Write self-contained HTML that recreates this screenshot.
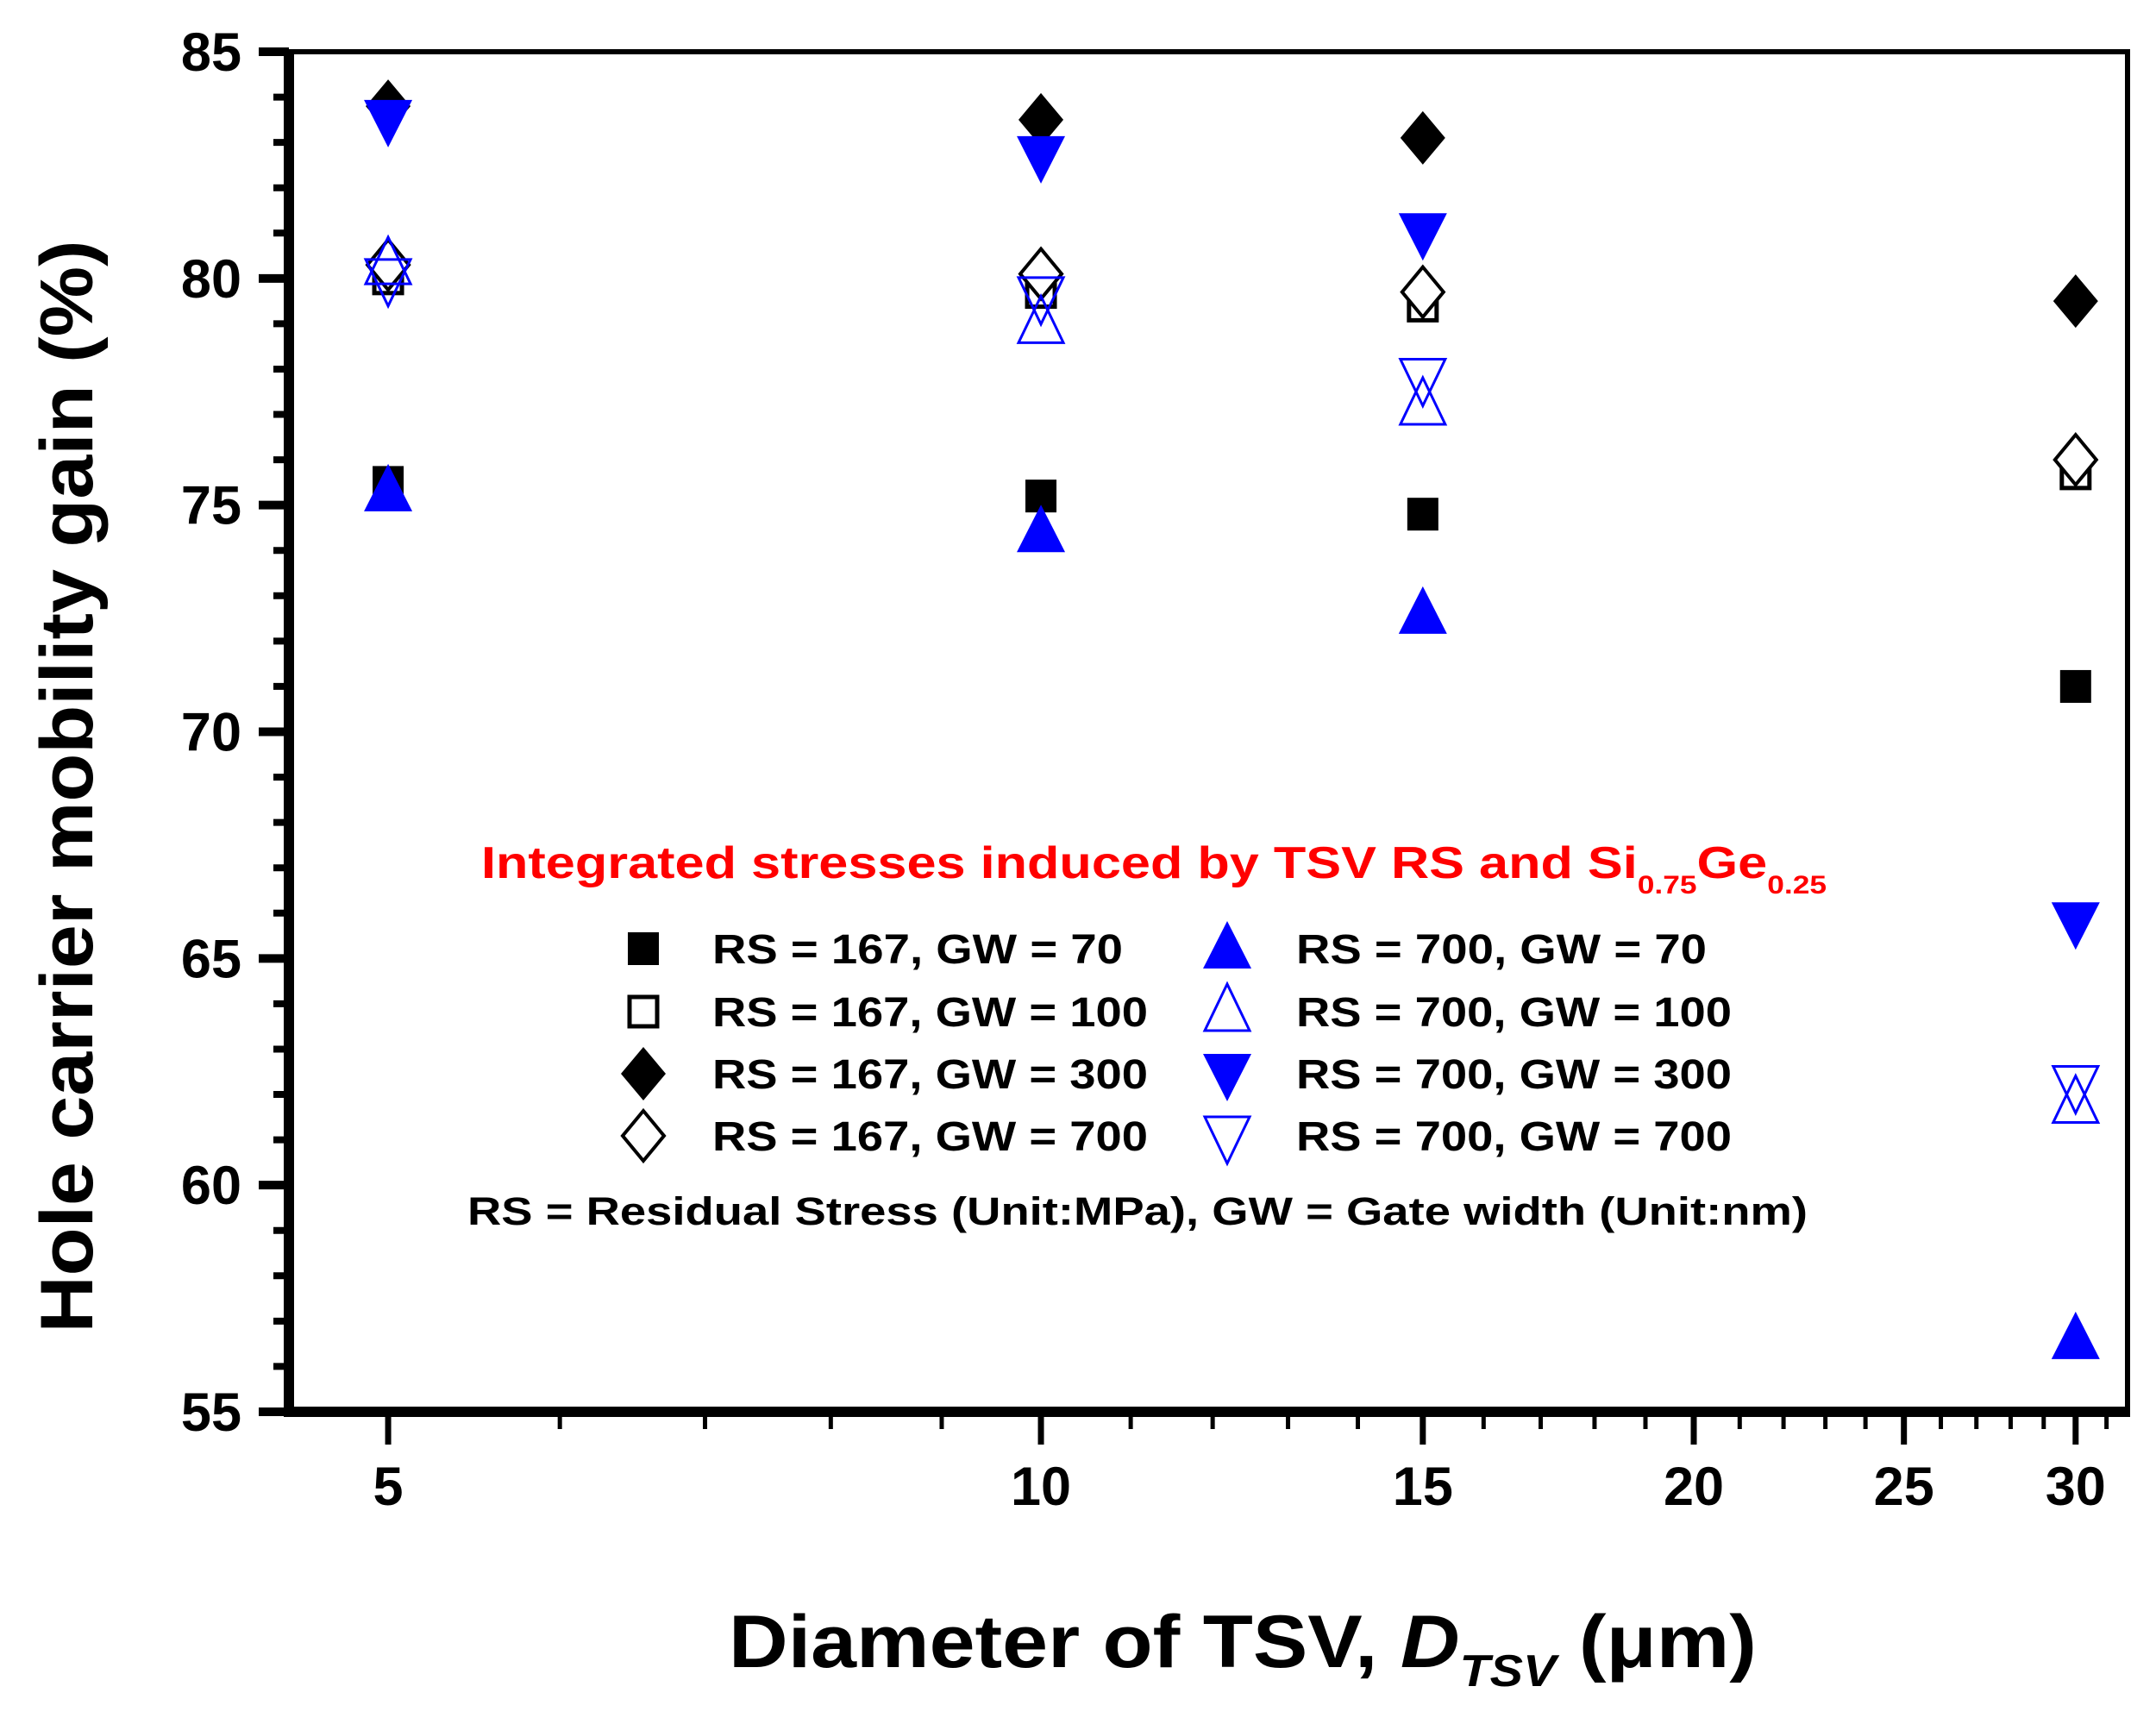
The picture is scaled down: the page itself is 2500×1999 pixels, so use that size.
<!DOCTYPE html>
<html><head><meta charset="utf-8"><style>
html,body{margin:0;padding:0;background:#fff;}
svg{display:block;font-family:"Liberation Sans",Arial,sans-serif;font-weight:bold;}
</style></head><body>
<svg id="chart" width="2500" height="1999" viewBox="0 0 2500 1999" xmlns="http://www.w3.org/2000/svg">
<g id="axes"></g>
<g id="marks"></g>
<g id="legend">
<text x="558" y="1018" font-size="52" fill="#ff0000" textLength="1560" lengthAdjust="spacingAndGlyphs">Integrated stresses induced by TSV RS and Si<tspan font-size="30" dy="18">0.75</tspan><tspan dy="-18">Ge</tspan><tspan font-size="30" dy="18">0.25</tspan></text>
<text x="542" y="1420" font-size="45" fill="#000" textLength="1554" lengthAdjust="spacingAndGlyphs">RS = Residual Stress (Unit:MPa), GW = Gate width (Unit:nm)</text>
</g>
<text transform="translate(107,912) rotate(-90)" text-anchor="middle" font-size="86" fill="#000" textLength="1267" lengthAdjust="spacingAndGlyphs">Hole carrier mobility gain (%)</text>
<text x="845" y="1933" font-size="86" fill="#000" textLength="1192" lengthAdjust="spacingAndGlyphs">Diameter of TSV, <tspan font-style="italic">D</tspan><tspan font-style="italic" font-size="52" dy="22">TSV</tspan><tspan dy="-22"> (μm)</tspan></text>
</svg>
<script>
const xValues = [5, 10, 15, 30];
const seriesNames = ['RS = 167, GW = 70','RS = 167, GW = 100','RS = 167, GW = 300','RS = 167, GW = 700','RS = 700, GW = 70','RS = 700, GW = 100','RS = 700, GW = 300','RS = 700, GW = 700'];
const sq167gw70 = [75.5, 75.2, 74.8, 71.0];
const sq167gw100 = [80.0, 79.7, 79.4, 75.7];
const dm167gw300 = [83.8, 83.5, 83.1, 79.5];
const dm167gw700 = [80.3, 80.1, 79.7, 76.0];
const up700gw70 = [75.3, 74.4, 72.6, 56.6];
const up700gw100 = [80.3, 79.0, 77.2, 61.8];
const dn700gw300 = [83.5, 82.7, 81.0, 65.8];
const dn700gw700 = [80.0, 79.6, 77.8, 62.2];
const yTicks = [55, 60, 65, 70, 75, 80, 85];
const xTicks = [5, 10, 15, 20, 25, 30];

const NS = 'http://www.w3.org/2000/svg';
const L = 335, R = 2467, T = 60, B = 1637;
const xMin = 4.5, xMax = 31.7, yMin = 55, yMax = 85;
function xs(v){ return L + (Math.log10(v) - Math.log10(xMin)) / (Math.log10(xMax) - Math.log10(xMin)) * (R - L); }
function ys(v){ return B - (v - yMin) / (yMax - yMin) * (B - T); }
function mk(tag, attrs, parent){ const e = document.createElementNS(NS, tag); for (const k in attrs) e.setAttribute(k, attrs[k]); parent.appendChild(e); return e; }

const axes = document.getElementById('axes');
const frame = mk('rect', {x:L, y:T, width:R-L, height:B-T, fill:'none', stroke:'#000', 'stroke-width':6}, axes);


const yAx = mk('line', {x1:L, y1:T, x2:L, y2:B+6, stroke:'#000', 'stroke-width':12}, axes);


const xAx = mk('line', {x1:L-6, y1:B, x2:R+3, y2:B, stroke:'#000', 'stroke-width':12}, axes);



for (let v = yMin; v <= yMax; v++) {
  const major = yTicks.includes(v);
  const t = mk('line', {x1:major ? L-35 : L-18, y1:ys(v), x2:L, y2:ys(v), stroke:'#000', 'stroke-width':major ? 10 : 8}, axes);
  
  
}
yTicks.forEach(v => {
  const t = mk('text', {x:280, y:ys(v)+22, 'text-anchor':'end', 'font-size':63, fill:'#000'}, axes);
  t.textContent = v;
  
  
});
for (let v = 5; v <= 31; v++) {
  const major = xTicks.includes(v);
  const t = mk('line', {x1:xs(v), y1:B, x2:xs(v), y2:major ? B+38 : B+20, stroke:'#000', 'stroke-width':major ? 7 : 5}, axes);
  
  
}
xTicks.forEach(v => {
  const t = mk('text', {x:xs(v), y:1745, 'text-anchor':'middle', 'font-size':63, fill:'#000'}, axes);
  t.textContent = v;
  
  
});

function marker(parent, type, cx, cy){
  const BL = '#0000ff';
  let e;
  if (type === 'sqF') e = mk('rect', {x:cx-18, y:cy-19, width:36, height:38, fill:'#000'}, parent);
  else if (type === 'sqO') e = mk('rect', {x:cx-16, y:cy-17, width:32, height:34, fill:'#fff', stroke:'#000', 'stroke-width':5}, parent);
  else if (type === 'dmF') e = mk('polygon', {points:`${cx},${cy-31} ${cx+26},${cy} ${cx},${cy+31} ${cx-26},${cy}`, fill:'#000'}, parent);
  else if (type === 'dmO') e = mk('polygon', {points:`${cx},${cy-29} ${cx+24},${cy} ${cx},${cy+29} ${cx-24},${cy}`, fill:'#fff', stroke:'#000', 'stroke-width':4}, parent);
  else if (type === 'upF') e = mk('polygon', {points:`${cx},${cy-32} ${cx+28},${cy+23} ${cx-28},${cy+23}`, fill:BL}, parent);
  else if (type === 'upO') e = mk('polygon', {points:`${cx},${cy-32} ${cx+26},${cy+22} ${cx-26},${cy+22}`, fill:'none', stroke:BL, 'stroke-width':3}, parent);
  else if (type === 'dnF') e = mk('polygon', {points:`${cx-28},${cy-23} ${cx+28},${cy-23} ${cx},${cy+32}`, fill:BL}, parent);
  else e = mk('polygon', {points:`${cx-26},${cy-22} ${cx+26},${cy-22} ${cx},${cy+32}`, fill:'none', stroke:BL, 'stroke-width':3}, parent);
  return e;
}
const seriesData = [sq167gw70, sq167gw100, dm167gw300, dm167gw700, up700gw70, up700gw100, dn700gw300, dn700gw700];
const types = ['sqF','sqO','dmF','dmO','upF','upO','dnF','dnO'];
const slugs = ['sq-167-gw70','sq-167-gw100','diamond-167-gw300','diamond-167-gw700','tri-up-700-gw70','tri-up-700-gw100','tri-down-700-gw300','tri-down-700-gw700'];
const marks = document.getElementById('marks');
const order = [0,1,3,5,7,2,6,4];
order.forEach(si => {
  seriesData[si].forEach((v, i) => {
    const m = marker(marks, types[si], xs(xValues[i]), ys(v));
    
    
  });
});

const legend = document.getElementById('legend');
const rowsY = [1100, 1173, 1245, 1317];
seriesNames.forEach((name, si) => {
  const col = si < 4 ? 0 : 1;
  const row = si % 4;
  const mx = col === 0 ? 746 : 1423;
  const tx = col === 0 ? 826 : 1503;
  const m = marker(legend, types[si], mx, rowsY[row]);
  
  
  const t = mk('text', {x:tx, y:rowsY[row]+17, 'font-size':48, fill:'#000', textLength:(name.length > 17 ? 505 : 476), lengthAdjust:'spacingAndGlyphs'}, legend);
  t.textContent = name;
  
  
});
</script>
</body></html>
